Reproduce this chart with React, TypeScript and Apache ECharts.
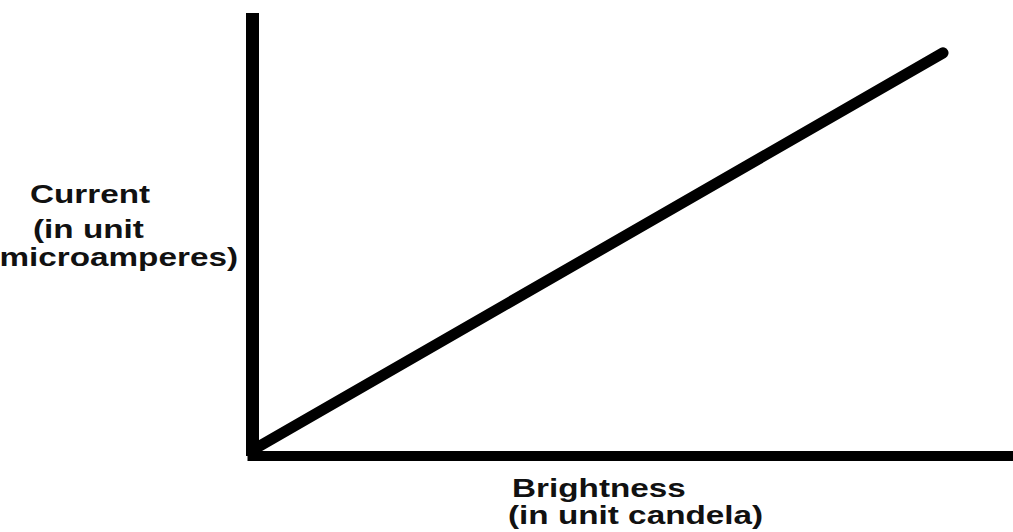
import React, { useEffect, useRef } from "react";
import * as echarts from "echarts";

// Brightness (candela) vs current (microamperes): a straight-line relation
const brightness: number[] = [0.72, 90.8];
const current: number[] = [2.03, 91.0];

const yTitleLines: string[] = ["Current", "(in unit", "microamperes)"];
const xTitleLines: string[] = ["Brightness", "(in unit candela)"];

const INK = "#111111";
const FONT = "bold 26px 'Liberation Sans', Arial, sans-serif";

export default function App() {
  const ref = useRef<HTMLDivElement>(null);

  useEffect(() => {
    if (!ref.current) return;
    const chart = echarts.init(ref.current, undefined, { renderer: "svg" });

    const points = brightness.map((b, i) => [b, current[i]]);

    // baseline -> top offset for a 26px line drawn with verticalAlign 'top'
    const toTop = (baseline: number) => baseline - 22;

    const title = (
      text: string,
      x: number,
      baseline: number,
      align: "left" | "right"
    ) => ({
      type: "text",
      x,
      y: toTop(baseline),
      scaleX: 1.28,
      silent: true,
      style: {
        text,
        x: 0,
        y: 0,
        align,
        verticalAlign: "top",
        font: FONT,
        fill: INK,
      },
    });

    chart.setOption({
      animation: false,
      backgroundColor: "#ffffff",
      grid: { left: 252.5, right: 0, top: 13, bottom: 76 },
      xAxis: {
        type: "value",
        min: 0,
        max: 100,
        axisLine: { show: true, lineStyle: { color: "#000", width: 10, cap: "square" } },
        axisTick: { show: false },
        axisLabel: { show: false },
        splitLine: { show: false },
      },
      yAxis: {
        type: "value",
        min: 0,
        max: 100,
        axisLine: { show: true, lineStyle: { color: "#000", width: 13, cap: "butt" } },
        axisTick: { show: false },
        axisLabel: { show: false },
        splitLine: { show: false },
      },
      series: [
        {
          type: "line",
          data: points,
          symbol: "none",
          clip: false,
          lineStyle: { color: "#000", width: 11, cap: "round" },
        },
      ],
      graphic: [
        title(yTitleLines[0], 30, 203, "left"),
        title(yTitleLines[1], 33, 238, "left"),
        title(yTitleLines[2], 238, 266, "right"),
        title(xTitleLines[0], 512, 497, "left"),
        title(xTitleLines[1], 508, 524, "left"),
      ],
    });

    return () => chart.dispose();
  }, []);

  return (
    <div
      ref={ref}
      style={{ position: "fixed", left: 0, top: 0, width: 1013, height: 532 }}
    />
  );
}
